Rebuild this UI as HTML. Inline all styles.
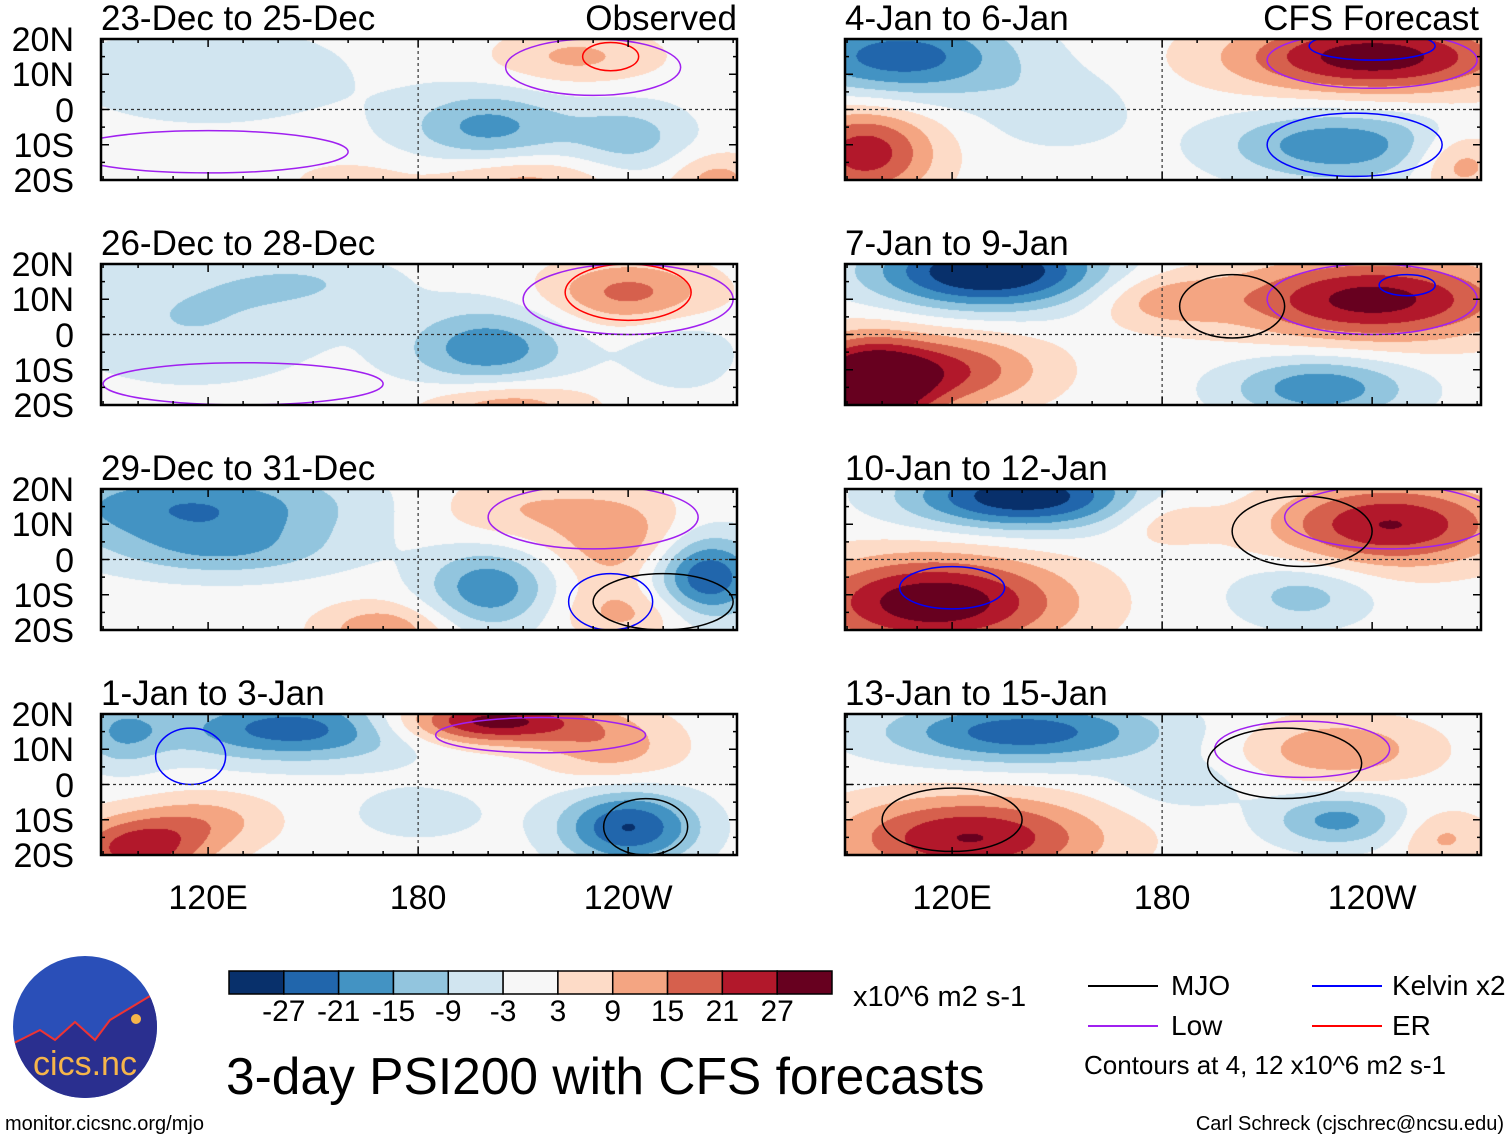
<!DOCTYPE html>
<html><head><meta charset="utf-8">
<style>
body{margin:0;background:#fff;width:1510px;height:1142px;overflow:hidden;position:relative;font-family:"Liberation Sans",sans-serif;color:#000}
.t{position:absolute;white-space:nowrap;line-height:1}
canvas{position:absolute}
svg{position:absolute;left:0;top:0}
</style></head><body>
<div id="root"></div>
<svg id="ov" width="1510" height="1142"></svg>
<script>
// ---- data ----
const panelTitles = ["23-Dec to 25-Dec","26-Dec to 28-Dec","29-Dec to 31-Dec","1-Jan to 3-Jan","4-Jan to 6-Jan","7-Jan to 9-Jan","10-Jan to 12-Jan","13-Jan to 15-Jan"];
const latTicks = ["20N","10N","0","10S","20S"];
const latVals = [20,10,0,-10,-20];
const lonTicks = ["120E","180","120W"];
const lonVals = [120,180,240];
const cbLabels = ["-27","-21","-15","-9","-3","3","9","15","21","27"];
const cbColors = ["#08306b","#2166ac","#4393c3","#92c5de","#d1e5f0","#f7f7f7","#fddbc7","#f4a582","#d6604d","#b2182b","#67001f"];
// blobs: [lon, lat, value, rxDeg, ryDeg]
const blobs0 = [[120,10,-5,35,12],[200,-5,-13,18,8],[240,-8,-9,14,8],[225,15,8,18,6],[210,-20,9,20,6],[265,-20,9,10,6],[160,-20,4,15,5]];
const blobs1 = [[115,5,-7,30,14],[200,-4,-15,18,9],[150,15,-5,20,6],[240,12,13,18,7],[205,-20,11,18,6],[255,-5,-6,12,8]];
const blobs2 = [[115,15,-16,35,9],[125,2,-8,25,6],[210,14,7,20,8],[238,5,10,14,10],[200,-8,-15,14,9],[262,-5,-21,12,9],[170,-20,11,14,6],[240,-15,8,15,6]];
const blobs3 = [[100,-18,19,15,7],[145,16,-19,28,7],[200,18,24,22,5],[235,10,9,15,7],[240,-12,-21,15,8],[120,-10,8,15,6],[95,15,-10,10,8],[180,-8,-5,15,6]];
const blobs4 = [[105,15,-19,25,9],[240,15,24,30,8],[95,-12,19,15,10],[230,-10,-15,25,8],[265,-15,11,10,7],[150,0,-6,15,8]];
const blobs5 = [[130,18,-27,25,8],[240,10,23,30,9],[95,-15,31,14,10],[225,-15,-15,20,7],[180,10,9,15,6],[120,-10,15,20,8]];
const blobs6 = [[140,18,-25,25,7],[245,10,21,25,9],[115,-12,25,28,10],[220,-10,-9,15,7],[180,12,6,12,6]];
const blobs7 = [[140,15,-19,30,7],[230,10,11,20,7],[125,-15,21,28,9],[230,-10,-13,15,6],[185,0,-5,15,6],[260,-15,8,10,6]];
const allBlobs = [blobs0,blobs1,blobs2,blobs3,blobs4,blobs5,blobs6,blobs7];
// contour ellipses per panel: [lon, lat, rxDeg, ryDeg, color]
const rings = [[[230,12,25,8,"#a020f0"],[235,15,8,4,"#f00"],[120,-12,40,6,"#a020f0"]],
 [[240,12,18,8,"#f00"],[240,10,30,10,"#a020f0"],[130,-14,40,6,"#a020f0"]],
 [[230,12,30,9,"#a020f0"],[235,-12,12,8,"#00f"],[250,-12,20,8,"#000"]],
 [[115,8,10,8,"#00f"],[215,14,30,5,"#a020f0"],[245,-12,12,8,"#000"]],
 [[240,14,30,8,"#a020f0"],[240,18,18,4,"#00f"],[235,-10,25,9,"#00f"]],
 [[240,10,30,10,"#a020f0"],[200,8,15,9,"#000"],[250,14,8,3,"#00f"]],
 [[245,12,30,9,"#a020f0"],[220,8,20,10,"#000"],[120,-8,15,6,"#00f"]],
 [[220,10,25,8,"#a020f0"],[215,6,22,10,"#000"],[120,-10,20,9,"#000"]]];

const PW=636, PH=141;
const lonMin=89.4, lonMax=271.1;
const panelX=[101,845];
const panelY=[39,264,489,714];
function xOf(lon){return (lon-lonMin)/(lonMax-lonMin)*PW;}
function yOf(lat){return (20-lat)/40*PH;}
function bin(v){const b=[-27,-21,-15,-9,-3,3,9,15,21,27];let i=0;while(i<10&&v>b[i])i++;return i;}
function hex(c){return [parseInt(c.slice(1,3),16),parseInt(c.slice(3,5),16),parseInt(c.slice(5,7),16)];}
const rgb=cbColors.map(hex);
const root=document.getElementById('root');
const ov=document.getElementById('ov');
const NS="http://www.w3.org/2000/svg";
function txt(s,x,y,size,anchor,name){
  const d=document.createElement('div');d.className='t';d.textContent=s;d.style.fontSize=size+'px';
  d.style.top=y+'px';
  if(anchor==='r'){d.style.right=(1510-x)+'px';}else if(anchor==='c'){d.style.left=x+'px';d.style.transform='translateX(-50%)';}else d.style.left=x+'px';
  
  
  root.appendChild(d);return d;}
function sv(tag,attrs,name){const e=document.createElementNS(NS,tag);for(const k in attrs)e.setAttribute(k,attrs[k]);
  
  
  ov.appendChild(e);return e;}
const VS=1.3, RS=1.3;
allBlobs.forEach((bl,p)=>{
  const col=p<4?0:1,row=p%4;const X=panelX[col],Y=panelY[row];
  const cv=document.createElement('canvas');cv.width=PW;cv.height=PH;cv.style.left=X+'px';cv.style.top=Y+'px';
  
  
  root.appendChild(cv);
  const ctx=cv.getContext('2d');const im=ctx.createImageData(PW,PH);
  for(let j=0;j<PH;j++){const lat=20-j/PH*40;for(let i=0;i<PW;i++){const lon=lonMin+i/PW*(lonMax-lonMin);
    let v=0;for(const b of bl){const dx=(lon-b[0])/(b[3]*RS),dy=(lat-b[1])/(b[4]*RS);v+=b[2]*VS*Math.exp(-(dx*dx+dy*dy));}
    const c=rgb[bin(v)];const k=(j*PW+i)*4;im.data[k]=c[0];im.data[k+1]=c[1];im.data[k+2]=c[2];im.data[k+3]=255;}}
  ctx.putImageData(im,0,0);
  const cp=sv('clipPath',{id:'clip'+p},'clip');const cr=document.createElementNS(NS,'rect');
  cr.setAttribute('x',X);cr.setAttribute('y',Y);cr.setAttribute('width',PW);cr.setAttribute('height',PH);cp.appendChild(cr);
  rings[p].forEach(r=>{sv('ellipse',{cx:X+xOf(r[0]),cy:Y+yOf(r[1]),rx:r[2]*3.5,ry:r[3]*3.52,fill:'none',stroke:r[4],'stroke-width':1.5,'clip-path':'url(#clip'+p+')'},'contour-line');});
  sv('line',{x1:X,x2:X+PW,y1:Y+yOf(0),y2:Y+yOf(0),stroke:'#333','stroke-width':1.2,'stroke-dasharray':'3,3'},'equator-line');
  sv('line',{x1:X+xOf(180),x2:X+xOf(180),y1:Y,y2:Y+PH,stroke:'#333','stroke-width':1.2,'stroke-dasharray':'3,3'},'dateline');
  sv('rect',{x:X,y:Y,width:PW,height:PH,fill:'none',stroke:'#000','stroke-width':2.5},'panel-frame');
  for(let lon=90;lon<=270;lon+=10){const L=(lon%60===0)?8:4;const x=X+xOf(lon);
    sv('line',{x1:x,x2:x,y1:Y+PH,y2:Y+PH-L,stroke:'#000','stroke-width':1.5},'x-tick');
    sv('line',{x1:x,x2:x,y1:Y,y2:Y+L,stroke:'#000','stroke-width':1.5},'x-tick');}
  for(let lat=-20;lat<=20;lat+=5){const y=Y+yOf(lat);const L=lat%10===0?8:4;
    sv('line',{x1:X,x2:X+L,y1:y,y2:y,stroke:'#000','stroke-width':1.5},'y-tick');
    sv('line',{x1:X+PW,x2:X+PW-L,y1:y,y2:y,stroke:'#000','stroke-width':1.5},'y-tick');}
  txt(panelTitles[p],X,Y-38,35,'l','panel-title');
  if(col===0){latTicks.forEach((s,k)=>txt(s,74,Y+yOf(latVals[k])-16,34,'r','lat-label'));}
});
txt("Observed",737,1,35,'r','observed-label');
txt("CFS Forecast",1479,1,35,'r','forecast-label');
[0,1].forEach(c=>lonTicks.forEach((s,k)=>txt(s,panelX[c]+xOf(lonVals[k]),881,34,'c','lon-label')));
const cbX=229,cbW=603,cbY=971,cbH=23,bw=cbW/11;
cbColors.forEach((c,i)=>sv('rect',{x:cbX+i*bw,y:cbY,width:bw,height:cbH,fill:c,stroke:'#000','stroke-width':1.5},'colorbar-box'));
cbLabels.forEach((s,i)=>txt(s,cbX+(i+1)*bw,997,30,'c','colorbar-label'));
txt("x10^6 m2 s-1",853,983,29,'l','colorbar-units');
txt("3-day PSI200 with CFS forecasts",226,1051,51.5,'l','figure-title');
[[1088,986,"#000","MJO",1171],[1312,986,"#00f","Kelvin x2",1392],[1088,1026,"#a020f0","Low",1171],[1312,1026,"#f00","ER",1392]].forEach(l=>{
  sv('line',{x1:l[0],x2:l[0]+70,y1:l[1],y2:l[1],stroke:l[2],'stroke-width':2},'legend-line-'+l[3].toLowerCase());
  txt(l[3],l[4],l[1]-14,28,'l','legend-label');});
txt("Contours at 4, 12 x10^6 m2 s-1",1084,1052,26,'l','contour-note');
txt("Carl Schreck (cjschrec@ncsu.edu)",1504,1114,20,'r','author-credit');
txt("monitor.cicsnc.org/mjo",5,1114,20,'l','website-url');
const lc=sv('clipPath',{id:'logoclip'},'clip');const le=document.createElementNS(NS,'ellipse');
le.setAttribute('cx',85);le.setAttribute('cy',1027);le.setAttribute('rx',72);le.setAttribute('ry',71);lc.appendChild(le);
sv('ellipse',{cx:85,cy:1027,rx:72,ry:71,fill:'#2a4fb8'},'cics-logo');
sv('path',{d:'M10 1045 L40 1030 L55 1040 L75 1022 L95 1040 L110 1020 L160 990 L160 1110 L10 1110 Z',fill:'#2a2f8f',stroke:'#e33','stroke-width':2,'clip-path':'url(#logoclip)'},'logo-mountains');
sv('circle',{cx:136,cy:1019,r:5,fill:'#f6b54a'},'logo-sun');
const lt=sv('text',{x:85,y:1075,'text-anchor':'middle','font-size':34,fill:'#f6b54a','font-family':'Liberation Sans, sans-serif'},'logo-text');lt.textContent='cics.nc';
</script>
</body></html>
